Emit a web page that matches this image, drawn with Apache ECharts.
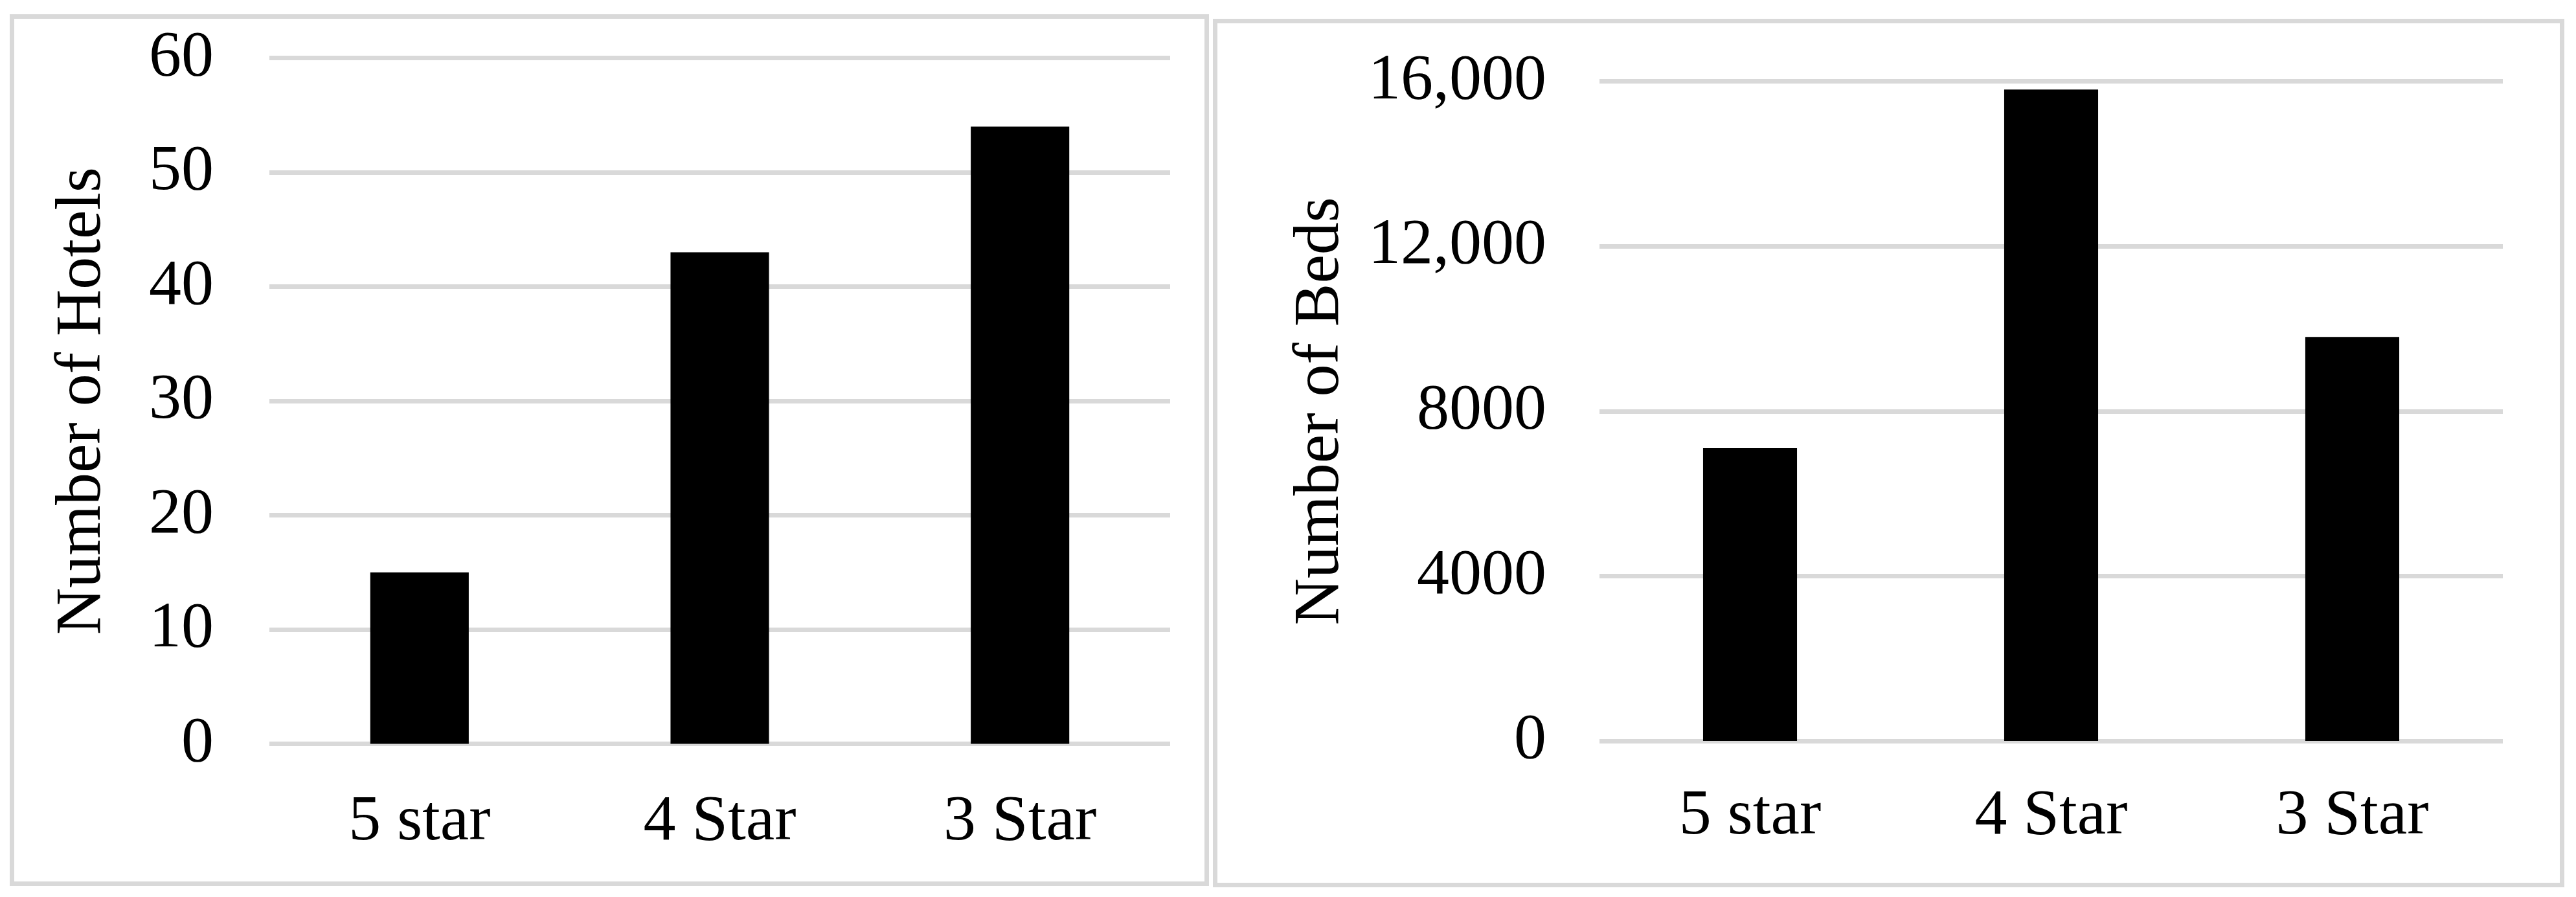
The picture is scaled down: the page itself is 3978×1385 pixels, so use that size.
<!DOCTYPE html>
<html>
<head>
<meta charset="utf-8">
<title>Hotels and Beds</title>
<script src="https://cdn.jsdelivr.net/npm/echarts@6/dist/echarts.min.js"></script>
<style>
  html, body { margin: 0; padding: 0; background: #fff; }
  #chart { width: 3978px; height: 1385px; }
</style>
</head>
<body>
<div id="chart"></div>
<script>
// data
const categories = ['5 star', '4 Star', '3 Star']
const hotelCounts = [15, 43, 54]
const bedCounts = [7100, 15800, 9800]
const hotelTicks = { min: 0, max: 60, interval: 10 }
const bedTicks = { min: 0, max: 16000, interval: 4000 }

const font = "'Times New Roman', 'Liberation Serif', serif"
const gridColor = '#d9d9d9'

// 16,000 and 12,000 get a comma, 8000 and 4000 don't (like the original)
function bedLabel (v) {
  return v >= 10000 ? v.toLocaleString('en-US') : String(v)
}

function makeYAxis (gridIndex, ticks, name, nameGap, margin, formatter) {
  return {
    type: 'value',
    gridIndex: gridIndex,
    min: ticks.min,
    max: ticks.max,
    interval: ticks.interval,
    name: name,
    nameLocation: 'middle',
    nameGap: nameGap,
    nameTextStyle: { fontFamily: font, fontSize: 100, color: '#000' },
    axisLine: { show: false },
    axisTick: { show: false },
    axisLabel: { fontFamily: font, fontSize: 100, color: '#000', margin: margin, formatter: formatter },
    splitLine: { show: true, lineStyle: { color: gridColor, width: 7 } }
  }
}

function makeXAxis (gridIndex, margin) {
  return {
    type: 'category',
    gridIndex: gridIndex,
    data: categories,
    axisLine: { show: false },
    axisTick: { show: false },
    axisLabel: { fontFamily: font, fontSize: 100, color: '#000', margin: margin }
  }
}

const chart = echarts.init(document.getElementById('chart'), null, { renderer: 'canvas' })

const option = {
  animation: false,
  backgroundColor: '#fff',
  grid: [
    { left: 416, top: 89.5, width: 1391, height: 1059 },
    { left: 2470, top: 125.5, width: 1395, height: 1018.5 }
  ],
  xAxis: [makeXAxis(0, 71), makeXAxis(1, 67)],
  yAxis: [
    makeYAxis(0, hotelTicks, 'Number of Hotels', 238, 86),
    makeYAxis(1, bedTicks, 'Number of Beds', 380, 82, bedLabel)
  ],
  series: [
    {
      type: 'bar',
      xAxisIndex: 0,
      yAxisIndex: 0,
      data: hotelCounts,
      barWidth: '32.8%',
      itemStyle: { color: '#000' }
    },
    {
      type: 'bar',
      xAxisIndex: 1,
      yAxisIndex: 1,
      data: bedCounts,
      barWidth: '31.2%',
      itemStyle: { color: '#000' }
    }
  ],
  // the two light grey frames round each panel
  graphic: [
    {
      type: 'rect',
      silent: true,
      shape: { x: 18.5, y: 25.5, width: 1845, height: 1339 },
      style: { fill: 'none', stroke: gridColor, lineWidth: 7 }
    },
    {
      type: 'rect',
      silent: true,
      shape: { x: 1876.5, y: 32.5, width: 2080, height: 1334 },
      style: { fill: 'none', stroke: gridColor, lineWidth: 7 }
    }
  ]
}

chart.setOption(option)
</script>
</body>
</html>
